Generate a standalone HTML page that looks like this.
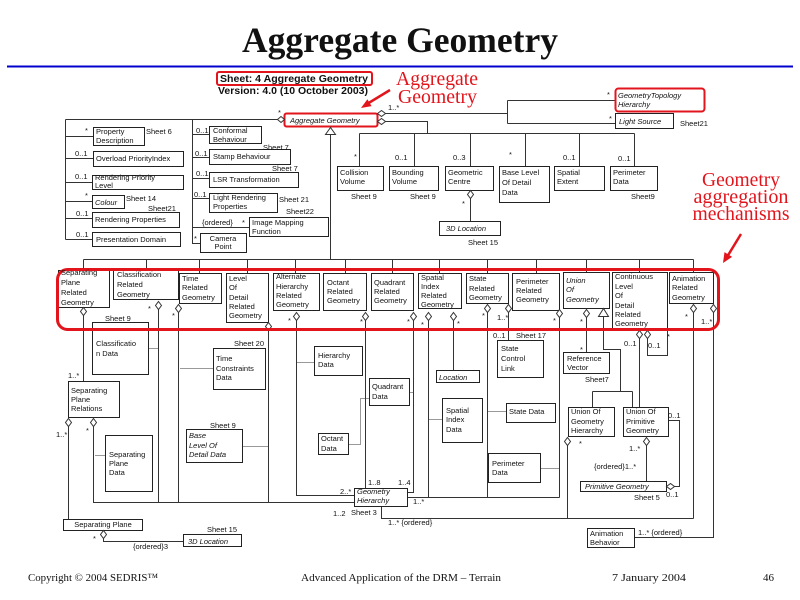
<!DOCTYPE html>
<html><head><meta charset="utf-8"><style>
html,body{margin:0;padding:0;background:#fff;}
svg{display:block;}
text{font-family:"Liberation Sans",Arial,sans-serif;font-size:7.5px;fill:#111;}
.i{font-style:italic;}
.b{font-weight:bold;}
.r{fill:#e2141c;font-family:"Liberation Serif",serif;font-size:20px;}
.f{font-family:"Liberation Serif",serif;font-size:11px;fill:#111;}
.bx rect{fill:#fff;stroke:#222;stroke-width:1;}
.ln{fill:none;stroke:#333;stroke-width:1;}
.dt{fill:none;stroke:#333;stroke-width:1;stroke-dasharray:1 1;}
.dm polygon{fill:#fff;stroke:#333;stroke-width:1;}
</style></head><body>
<svg width="800" height="600" viewBox="0 0 800 600" xmlns="http://www.w3.org/2000/svg">
<rect width="800" height="600" fill="#fff"/>
<text x="400" y="52" text-anchor="middle" style="font-family:'Liberation Serif',serif;font-weight:bold;font-size:36px;" textLength="316" lengthAdjust="spacingAndGlyphs">Aggregate Geometry</text>
<rect x="7" y="65.5" width="786" height="2" fill="#0000cc"/>
<rect x="217" y="72" width="155" height="13" rx="2" fill="none" stroke="#e2141c" stroke-width="2"/>
<text x="220" y="82" class="b" style="font-size:10px" textLength="148" lengthAdjust="spacingAndGlyphs">Sheet: 4  Aggregate Geometry</text>
<text x="218" y="94" class="b" style="font-size:10px" textLength="150" lengthAdjust="spacingAndGlyphs">Version: 4.0  (10 October 2003)</text>
<text x="396" y="85" class="r" textLength="82" lengthAdjust="spacingAndGlyphs">Aggregate</text>
<text x="398" y="103" class="r" textLength="79" lengthAdjust="spacingAndGlyphs">Geometry</text>
<line x1="390" y1="90" x2="367" y2="104" stroke="#e2141c" stroke-width="2.5"/>
<polygon points="361,108 371.6,106.1 367.4,99.3" fill="#e2141c"/>
<text x="741" y="186" class="r" text-anchor="middle" textLength="78" lengthAdjust="spacingAndGlyphs">Geometry</text>
<text x="741" y="203" class="r" text-anchor="middle" textLength="95" lengthAdjust="spacingAndGlyphs">aggregation</text>
<text x="741" y="220" class="r" text-anchor="middle" textLength="97" lengthAdjust="spacingAndGlyphs">mechanisms</text>
<line x1="741" y1="234" x2="727" y2="257" stroke="#e2141c" stroke-width="2.5"/>
<polygon points="723,263 732.1,256.9 724.5,252.1" fill="#e2141c"/>

<g transform="translate(0.5,0.5)">
<path class="ln" d="M65 119H277M65 119V239M192 119V243H200M65 136H93M65 158H93M65 182H92M65 201H92M65 218H92M65 239H92M192 134H209M192 157H209M192 178H209M192 198H209M192 227H249
M385 113H507M507 100V123M507 100H615M507 123H615M385 121H427V133M359 133H634M359 133V166M414 133V166M470 133V166M525 133V166M579 133V166M634 133V166M470 198V221
M330 134V259M83 259H693M83 259V270M146 259V270M199 259V273M247 259V273M295 259V273M345 259V273M392 259V273M439 259V273M487 259V273M536 259V273M586 259V272M639 259V272M693 259V272
M83 315V381M158 309V502M178 312V502M268 330V502M296 320V495H354M365 320V488M413 320V492H407M428 320V497M453 320V370M487 312V497M508 312V340M559 317V497M407 497H559
M586 317V352M603 316V349H620V391M592 391H632M592 391V407M632 391V407M639 338V407M647 338V355H667V328M693 312V518M713 312V537H634M567 445V518M381 506V518H693
M93 426V502H354M68 426V519M103 538V541H183M646 445V481M668 420H679V486H674"/>
<path class="dt" d="M148 348H158M180 368H213M95 455H105M242 446H268M296 362H314M409 392H413M348 444H360V398H369M428 419H442M487 411H506M540 468H559"/>
<g class="bx">
<rect x="93" y="127" width="51" height="18"/><rect x="93" y="151" width="90" height="15"/><rect x="92" y="175" width="91" height="14"/><rect x="92" y="195" width="32" height="13"/><rect x="92" y="212" width="87" height="15"/><rect x="92" y="232" width="88" height="14"/>
<rect x="209" y="126" width="52" height="17"/><rect x="209" y="149" width="81" height="15"/><rect x="209" y="172" width="89" height="15"/><rect x="209" y="193" width="68" height="19"/><rect x="249" y="217" width="79" height="19"/><rect x="200" y="233" width="46" height="19"/>
<rect x="337" y="166" width="46" height="24"/><rect x="389" y="166" width="49" height="24"/><rect x="445" y="166" width="48" height="24"/><rect x="439" y="221" width="61" height="14"/><rect x="499" y="166" width="50" height="36"/><rect x="554" y="166" width="50" height="24"/><rect x="610" y="166" width="47" height="24"/><rect x="615" y="113" width="58" height="15"/>
<rect x="58" y="270" width="51" height="37"/><rect x="113" y="270" width="65" height="29"/><rect x="179" y="273" width="42" height="30"/><rect x="226" y="273" width="42" height="49"/><rect x="273" y="273" width="46" height="37"/><rect x="323" y="273" width="43" height="37"/><rect x="371" y="273" width="42" height="37"/><rect x="418" y="273" width="43" height="35"/><rect x="466" y="273" width="42" height="30"/><rect x="512" y="273" width="47" height="37"/><rect x="563" y="272" width="46" height="36"/><rect x="612" y="272" width="55" height="56"/><rect x="669" y="272" width="44" height="31"/>
<rect x="92" y="322" width="56" height="52"/><rect x="213" y="348" width="52" height="41"/><rect x="68" y="381" width="51" height="36"/><rect x="105" y="435" width="47" height="56"/><rect x="186" y="429" width="56" height="33"/><rect x="314" y="346" width="48" height="29"/><rect x="369" y="378" width="40" height="27"/><rect x="318" y="433" width="30" height="21"/><rect x="436" y="370" width="43" height="12"/><rect x="442" y="398" width="40" height="44"/><rect x="497" y="340" width="46" height="37"/><rect x="506" y="403" width="49" height="19"/><rect x="488" y="453" width="52" height="29"/><rect x="563" y="352" width="46" height="21"/><rect x="568" y="407" width="46" height="29"/><rect x="623" y="407" width="45" height="29"/><rect x="580" y="481" width="86" height="10"/><rect x="354" y="488" width="53" height="18"/><rect x="63" y="519" width="79" height="11"/><rect x="183" y="534" width="58" height="12"/><rect x="587" y="528" width="47" height="19"/>
</g>
<rect x="615" y="88" width="89" height="23" rx="3" fill="#fff" stroke="#e2141c" stroke-width="2"/>
<rect x="284" y="113" width="93" height="13" rx="2" fill="#fff" stroke="#e2141c" stroke-width="2"/>
<g class="dm">
<polygon points="83,307 86,311 83,315 80,311"/><polygon points="158,301 161,305 158,309 155,305"/><polygon points="178,304 181,308 178,312 175,308"/><polygon points="268,322 271,326 268,330 265,326"/><polygon points="296,312 299,316 296,320 293,316"/><polygon points="365,312 368,316 365,320 362,316"/><polygon points="413,312 416,316 413,320 410,316"/><polygon points="428,312 431,316 428,320 425,316"/><polygon points="453,312 456,316 453,320 450,316"/><polygon points="487,304 490,308 487,312 484,308"/><polygon points="508,304 511,308 508,312 505,308"/><polygon points="559,309 562,313 559,317 556,313"/><polygon points="586,309 589,313 586,317 583,313"/><polygon points="639,330 642,334 639,338 636,334"/><polygon points="647,330 650,334 647,338 644,334"/><polygon points="693,304 696,308 693,312 690,308"/><polygon points="713,304 716,308 713,312 710,308"/><polygon points="68,418 71,422 68,426 65,422"/><polygon points="93,418 96,422 93,426 90,422"/><polygon points="470,190 473,194 470,198 467,194"/><polygon points="567,437 570,441 567,445 564,441"/><polygon points="646,437 649,441 646,445 643,441"/><polygon points="103,530 106,534 103,538 100,534"/>
<polygon points="277,119 280.5,116 284,119 280.5,122"/><polygon points="377,113 381,110 385,113 381,116"/><polygon points="377,121 381,118 385,121 381,124"/><polygon points="666,486 670,483 674,486 670,489"/>
<polygon points="330,127 325,134 335,134"/><polygon points="603,308 598,316 608,316"/>
</g>
<rect x="57" y="269" width="661" height="60" rx="10" fill="none" stroke="#e2141c" stroke-width="3"/>
</g>

<text x="290" y="123" class="i">Aggregate Geometry</text>
<text x="278" y="115">*</text><text x="388" y="110">1..*</text>
<text x="618" y="98" class="i">GeometryTopology</text><text x="618" y="107" class="i">Hierarchy</text>
<text x="607" y="97">*</text>
<text x="619" y="124" class="i">Light Source</text><text x="609" y="121">*</text><text x="680" y="126">Sheet21</text>

<text x="96" y="134">Property</text><text x="96" y="143">Description</text><text x="85" y="133">*</text><text x="146" y="134">Sheet 6</text>
<text x="96" y="161">Overload PriorityIndex</text><text x="75" y="156">0..1</text>
<text x="95" y="180">Rendering Priority</text><text x="95" y="188">Level</text><text x="75" y="179">0..1</text>
<text x="95" y="205" class="i">Colour</text><text x="85" y="198">*</text><text x="126" y="201">Sheet 14</text><text x="148" y="211">Sheet21</text>
<text x="95" y="222">Rendering Properties</text><text x="76" y="216">0..1</text>
<text x="96" y="242">Presentation Domain</text><text x="76" y="237">0..1</text>
<text x="213" y="133">Conformal</text><text x="213" y="142">Behaviour</text><text x="196" y="133">0..1</text>
<text x="213" y="159">Stamp Behaviour</text><text x="195" y="156">0..1</text><text x="263" y="150">Sheet 7</text>
<text x="213" y="182">LSR Transformation</text><text x="196" y="176">0..1</text><text x="272" y="171">Sheet 7</text>
<text x="213" y="200">Light Rendering</text><text x="213" y="209">Properties</text><text x="194" y="197">0..1</text><text x="279" y="202">Sheet 21</text>
<text x="286" y="214">Sheet22</text>
<text x="252" y="225">Image Mapping</text><text x="252" y="234">Function</text><text x="202" y="225">{ordered}</text><text x="242" y="225">*</text>
<text x="223" y="241" text-anchor="middle">Camera</text><text x="223" y="249" text-anchor="middle">Point</text><text x="194" y="241">*</text>

<text x="340" y="175">Collision</text><text x="340" y="184">Volume</text><text x="354" y="159">*</text><text x="351" y="199">Sheet 9</text>
<text x="392" y="175">Bounding</text><text x="392" y="184">Volume</text><text x="395" y="160">0..1</text><text x="410" y="199">Sheet 9</text>
<text x="448" y="175">Geometric</text><text x="448" y="184">Centre</text><text x="453" y="160">0..3</text><text x="462" y="206">*</text>
<text x="446" y="231" class="i">3D Location</text><text x="468" y="245">Sheet 15</text>
<text x="502" y="175">Base Level</text><text x="502" y="185">Of Detail</text><text x="502" y="195">Data</text><text x="509" y="157">*</text>
<text x="557" y="175">Spatial</text><text x="557" y="184">Extent</text><text x="563" y="160">0..1</text>
<text x="613" y="175">Perimeter</text><text x="613" y="184">Data</text><text x="618" y="161">0..1</text><text x="631" y="199">Sheet9</text>

<text x="61" y="275">Separating</text><text x="61" y="285">Plane</text><text x="61" y="295">Related</text><text x="61" y="305">Geometry</text>
<text x="117" y="277">Classification</text><text x="117" y="287">Related</text><text x="117" y="297">Geometry</text><text x="148" y="311">*</text>
<text x="182" y="281">Time</text><text x="182" y="290">Related</text><text x="182" y="300">Geometry</text><text x="172" y="318">*</text>
<text x="229" y="281">Level</text><text x="229" y="290">Of</text><text x="229" y="300">Detail</text><text x="229" y="309">Related</text><text x="229" y="318">Geometry</text>
<text x="276" y="279">Alternate</text><text x="276" y="289">Hierarchy</text><text x="276" y="298">Related</text><text x="276" y="307">Geometry</text><text x="288" y="323">*</text>
<text x="327" y="285">Octant</text><text x="327" y="294">Related</text><text x="327" y="303">Geometry</text><text x="360" y="324">*</text>
<text x="374" y="285">Quadrant</text><text x="374" y="294">Related</text><text x="374" y="303">Geometry</text><text x="407" y="324">*</text>
<text x="421" y="280">Spatial</text><text x="421" y="289">Index</text><text x="421" y="298">Related</text><text x="421" y="307">Geometry</text><text x="421" y="327">*</text><text x="457" y="326">*</text>
<text x="469" y="281">State</text><text x="469" y="291">Related</text><text x="469" y="300">Geometry</text><text x="482" y="318">*</text><text x="497" y="320">1..*</text>
<text x="516" y="284">Perimeter</text><text x="516" y="293">Related</text><text x="516" y="302">Geometry</text><text x="553" y="323">*</text>
<text x="566" y="283" class="i">Union</text><text x="566" y="292" class="i">Of</text><text x="566" y="302" class="i">Geometry</text><text x="580" y="324">*</text>
<text x="615" y="279">Continuous</text><text x="615" y="289">Level</text><text x="615" y="298">Of</text><text x="615" y="308">Detail</text><text x="615" y="317">Related</text><text x="615" y="326">Geometry</text>
<text x="624" y="346">0..1</text><text x="648" y="348">0..1</text><text x="667" y="339">*</text>
<text x="672" y="281">Animation</text><text x="672" y="290">Related</text><text x="672" y="300">Geometry</text><text x="685" y="319">*</text><text x="701" y="324">1..*</text>

<text x="96" y="346">Classificatio</text><text x="96" y="356">n Data</text><text x="105" y="321">Sheet 9</text>
<text x="216" y="361">Time</text><text x="216" y="371">Constraints</text><text x="216" y="380">Data</text><text x="234" y="346">Sheet 20</text>
<text x="71" y="393">Separating</text><text x="71" y="402">Plane</text><text x="71" y="411">Relations</text><text x="68" y="378">1..*</text>
<text x="56" y="437">1..*</text><text x="86" y="433">*</text>
<text x="109" y="457">Separating</text><text x="109" y="466">Plane</text><text x="109" y="475">Data</text>
<text x="189" y="438" class="i">Base</text><text x="189" y="448" class="i">Level Of</text><text x="189" y="457" class="i">Detail Data</text><text x="210" y="428">Sheet 9</text>
<text x="318" y="358">Hierarchy</text><text x="318" y="367">Data</text>
<text x="372" y="389">Quadrant</text><text x="372" y="399">Data</text>
<text x="321" y="441">Octant</text><text x="321" y="451">Data</text>
<text x="439" y="380" class="i">Location</text>
<text x="446" y="413">Spatial</text><text x="446" y="422">Index</text><text x="446" y="432">Data</text>
<text x="501" y="351">State</text><text x="501" y="361">Control</text><text x="501" y="371">Link</text><text x="493" y="338">0..1</text><text x="516" y="338">Sheet 17</text>
<text x="509" y="414">State Data</text>
<text x="492" y="466">Perimeter</text><text x="492" y="475">Data</text>
<text x="567" y="361">Reference</text><text x="567" y="370">Vector</text><text x="580" y="352">*</text><text x="585" y="382">Sheet7</text>
<text x="571" y="414">Union Of</text><text x="571" y="424">Geometry</text><text x="571" y="433">Hierarchy</text><text x="579" y="446">*</text>
<text x="626" y="414">Union Of</text><text x="626" y="424">Primitive</text><text x="626" y="433">Geometry</text><text x="668" y="418">0..1</text>
<text x="629" y="451">1..*</text><text x="594" y="469">{ordered}1..*</text>
<text x="585" y="489" class="i">Primitive Geometry</text><text x="666" y="497">0..1</text><text x="634" y="500">Sheet 5</text>
<text x="357" y="494" class="i">Geometry</text><text x="357" y="503" class="i">Hierarchy</text>
<text x="368" y="485">1..8</text><text x="398" y="485">1..4</text><text x="340" y="494">2..*</text><text x="413" y="504">1..*</text>
<text x="333" y="516">1..2</text><text x="351" y="515">Sheet 3</text><text x="388" y="525">1..*  {ordered}</text>
<text x="103" y="527" text-anchor="middle">Separating Plane</text><text x="93" y="541">*</text>
<text x="133" y="549">{ordered}3</text>
<text x="188" y="544" class="i">3D Location</text><text x="207" y="532">Sheet 15</text>
<text x="590" y="536">Animation</text><text x="590" y="545">Behavior</text><text x="638" y="535">1..*  {ordered}</text>

<text x="28" y="581" class="f" textLength="130" lengthAdjust="spacingAndGlyphs">Copyright © 2004 SEDRIS™</text>
<text x="301" y="581" class="f" textLength="200" lengthAdjust="spacingAndGlyphs">Advanced Application of the DRM – Terrain</text>
<text x="612" y="581" class="f" textLength="74" lengthAdjust="spacingAndGlyphs">7 January 2004</text>
<text x="763" y="581" class="f">46</text>
</svg>
</body></html>
